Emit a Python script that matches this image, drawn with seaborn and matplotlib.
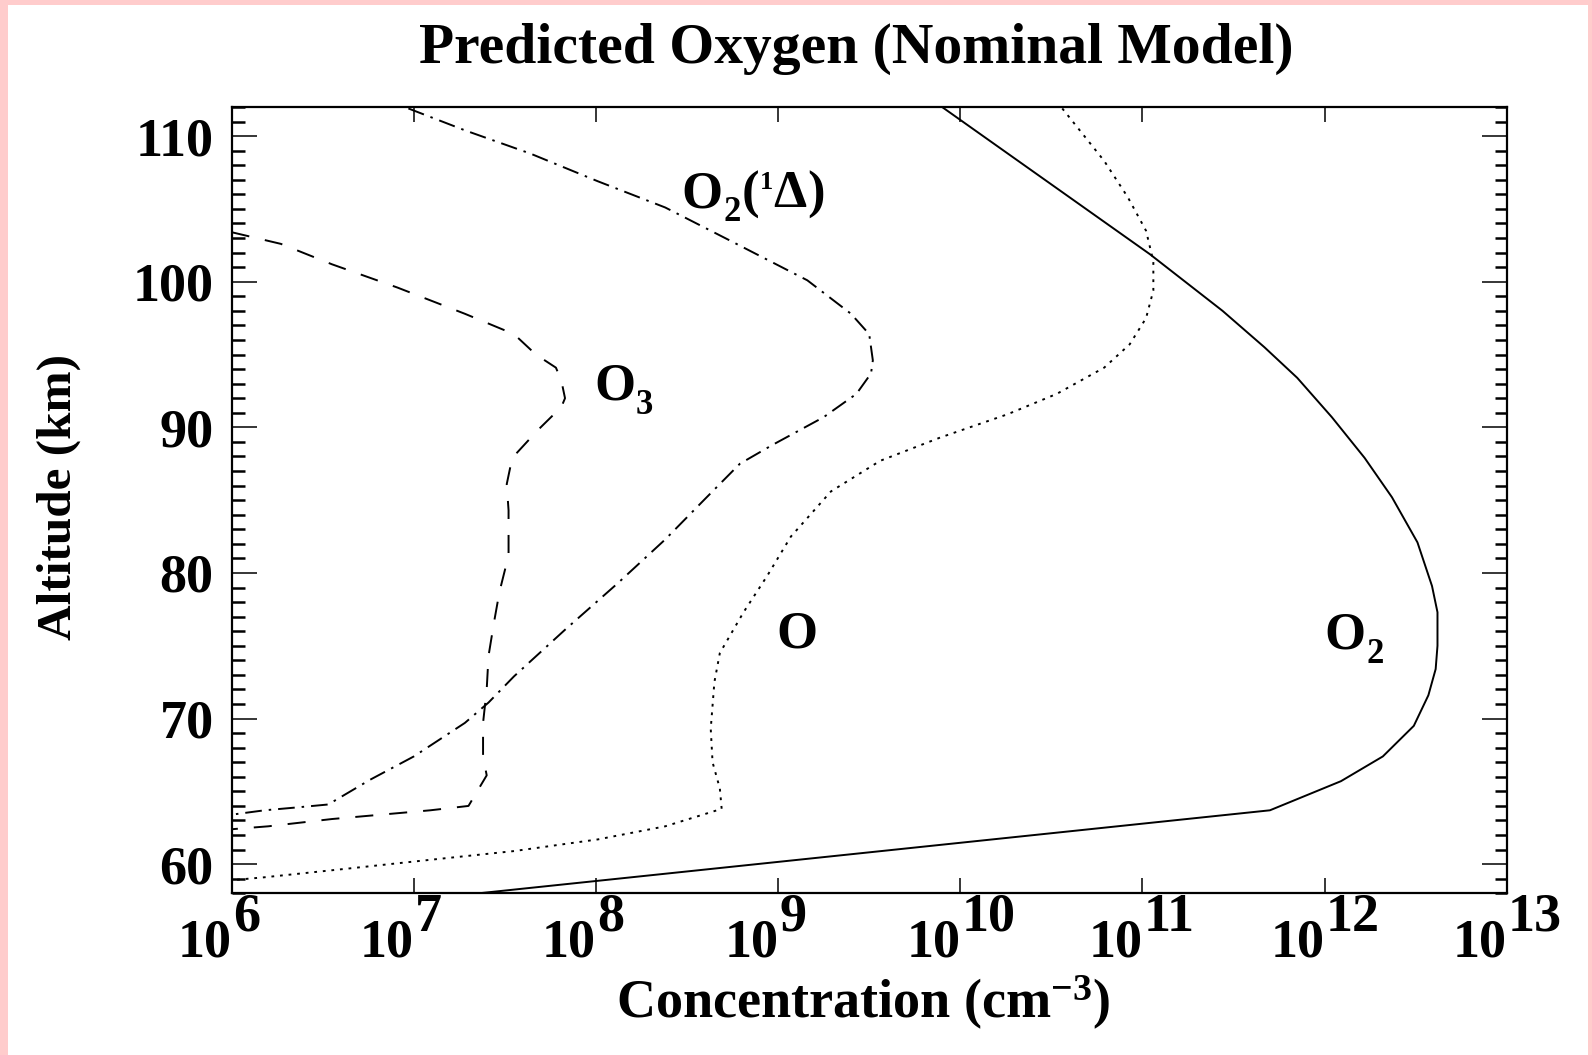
import matplotlib
matplotlib.use("Agg")
import matplotlib.pyplot as plt
from matplotlib.patches import Rectangle
from matplotlib.ticker import FixedLocator, MultipleLocator, NullLocator, NullFormatter
import numpy as np
import pandas as pd
import seaborn as sns

# Altitude (km) and log10 of number density (cm^-3) along each profile
o2_alt = [112.0, 101.9, 98.0, 95.5, 93.4, 90.7, 87.9, 85.2, 82.1, 79.1, 77.3, 75.0,
          73.4, 71.6, 69.5, 67.4, 65.7, 63.7, 57.9]
o2_log = [9.90, 11.04, 11.44, 11.67, 11.85, 12.04, 12.22, 12.37, 12.51, 12.59, 12.62, 12.62,
          12.61, 12.57, 12.49, 12.32, 12.09, 11.70, 7.28]

o_alt = [111.9, 108.3, 105.8, 103.5, 101.4, 99.4, 97.5, 95.7, 94.1, 92.3, 90.9, 89.3,
         87.7, 85.6, 82.5, 79.8, 77.3, 74.5, 72.5, 69.3, 67.0, 65.2, 63.8, 62.6,
         61.7, 60.9, 60.3, 59.7, 59.1, 58.9]
o_log = [10.56, 10.79, 10.92, 11.02, 11.06, 11.06, 11.02, 10.93, 10.79, 10.53, 10.26, 9.89,
         9.56, 9.29, 9.07, 8.94, 8.81, 8.68, 8.65, 8.63, 8.64, 8.68, 8.69, 8.38,
         8.01, 7.55, 7.09, 6.64, 6.18, 6.00]

o3_alt = [103.4, 102.6, 101.2, 99.6, 97.8, 96.4, 95.0, 94.1, 93.2, 92.0, 91.4, 89.8,
          87.9, 86.1, 84.3, 81.2, 78.7, 76.6, 74.3, 72.0, 69.7, 67.4, 66.1, 64.0,
          63.7, 63.4, 63.1, 62.6, 62.4]
o3_log = [6.00, 6.27, 6.55, 6.91, 7.28, 7.55, 7.67, 7.78, 7.81, 7.83, 7.81, 7.68,
          7.54, 7.51, 7.52, 7.52, 7.47, 7.44, 7.41, 7.40, 7.38, 7.38, 7.40, 7.30,
          7.09, 6.82, 6.55, 6.20, 6.00]

o2d_alt = [111.9, 110.4, 108.8, 106.9, 105.1, 102.8, 100.1, 97.8, 96.4, 94.6, 93.7, 92.3,
           90.7, 88.8, 87.5, 85.1, 82.3, 79.3, 76.1, 72.9, 71.1, 69.7, 67.4, 65.8,
           64.1, 63.9, 63.7, 63.4]
o2d_log = [6.97, 7.28, 7.64, 8.01, 8.38, 8.74, 9.16, 9.40, 9.50, 9.52, 9.51, 9.43,
           9.25, 8.97, 8.79, 8.60, 8.38, 8.12, 7.83, 7.55, 7.41, 7.28, 7.00, 6.76,
           6.53, 6.36, 6.18, 6.00]

species = ["O2", "O", "O3", "O2(1D)"]
y_ticks = [60, 70, 80, 90, 100, 110]
x_exponents = [6, 7, 8, 9, 10, 11, 12, 13]

frames = []
for name, alt, lg in [("O2", o2_alt, o2_log), ("O", o_alt, o_log),
                      ("O3", o3_alt, o3_log), ("O2(1D)", o2d_alt, o2d_log)]:
    frames.append(pd.DataFrame({"species": name, "altitude": alt,
                                "density": np.power(10.0, lg)}))
df = pd.concat(frames, ignore_index=True)

sns.set_theme(style="ticks")
plt.rcParams["font.family"] = ["Liberation Serif", "DejaVu Serif"]
plt.rcParams["font.weight"] = "bold"
plt.rcParams["text.color"] = "black"
plt.rcParams["axes.labelcolor"] = "black"
plt.rcParams["xtick.color"] = "black"
plt.rcParams["ytick.color"] = "black"
plt.rcParams["axes.edgecolor"] = "black"
plt.rcParams["mathtext.fontset"] = "custom"
plt.rcParams["mathtext.rm"] = "Liberation Serif:bold"
plt.rcParams["mathtext.it"] = "Liberation Serif:bold"
plt.rcParams["mathtext.bf"] = "Liberation Serif:bold"
plt.rcParams["lines.scale_dashes"] = False

FS_TICK = 39
FS_LAB = 38
W, H = 1592, 1055
fig = plt.figure(figsize=(W / 100, H / 100), dpi=100, facecolor="#FFCCCC")
fig.patches.append(Rectangle((8 / W, 0), 1 - 12 / W, 1 - 5 / H,
                             transform=fig.transFigure, facecolor="white",
                             edgecolor="none", zorder=-10))

ax = fig.add_axes([231.7 / W, 1 - 893.3 / H, 1275 / W, 786.3 / H])
ax.set_facecolor("white")

dash_map = {"O2": "", "O": (2.0, 4.2), "O3": (13, 11.5), "O2(1D)": (12, 5, 1.8, 5)}
sns.lineplot(data=df, x="density", y="altitude", style="species", dashes=dash_map,
             color="black", linewidth=1.4, sort=False, estimator=None,
             legend=False, ax=ax)

ax.set_xscale("log")
ax.set_xlim(1e6, 1e13)
ax.set_ylim(58, 112)
ax.set_xlabel("")
ax.set_ylabel("")

for s in ax.spines.values():
    s.set_visible(True)
    s.set_linewidth(1.6)
    s.set_color("black")

ax.xaxis.set_major_locator(FixedLocator([10.0 ** e for e in x_exponents]))
ax.xaxis.set_minor_locator(NullLocator())
ax.xaxis.set_major_formatter(NullFormatter())
ax.yaxis.set_major_locator(FixedLocator(y_ticks))
ax.yaxis.set_minor_locator(MultipleLocator(1))
ax.set_yticklabels([str(v) for v in y_ticks])

ax.tick_params(axis="x", which="major", direction="in", length=11, width=1.1,
               top=True, bottom=True, color="black")
ax.tick_params(axis="y", which="major", direction="in", length=18, width=1.1,
               left=True, right=True, labelsize=FS_TICK, pad=13, color="black")
ax.tick_params(axis="y", which="minor", direction="in", length=9, width=1.8,
               left=True, right=True, color="black")
for lab in ax.get_yticklabels():
    lab.set_fontweight("bold")

# Decade labels written as base with a full-size raised exponent
xt = ax.get_xaxis_transform()
for e in x_exponents:
    ax.annotate("10", xy=(10.0 ** e, 0), xycoords=xt, xytext=(0, -36.5),
                textcoords="offset points", ha="right", va="center",
                fontsize=FS_TICK, fontweight="bold", annotation_clip=False)
    ax.annotate(str(e), xy=(10.0 ** e, 0), xycoords=xt, xytext=(1, -17.5),
                textcoords="offset points", ha="left", va="center",
                fontsize=FS_TICK, fontweight="bold", annotation_clip=False)


def species_label(x, y, pieces):
    """Write a chemical label piece by piece on a common baseline at (x, y)."""
    first_txt, first_size, _ = pieces[0]
    prev = ax.text(x, y, first_txt, fontsize=first_size, fontweight="bold",
                   ha="left", va="baseline")
    for txt, size, dy in pieces[1:]:
        prev = ax.annotate(txt, xy=(1, y), xycoords=(prev, "data"),
                           xytext=(0.5, dy), textcoords="offset points",
                           ha="left", va="baseline", fontsize=size,
                           fontweight="bold")


SUB = 25
SUP = 19
species_label(10 ** 8.47, 105.1, [("O", FS_LAB, 0), ("2", SUB, -10), ("(", FS_LAB, 0),
                                   ("1", SUP, 13.5), ("Δ", FS_LAB, 0), (")", FS_LAB, 0)])
species_label(10 ** 7.99, 91.9, [("O", FS_LAB, 0), ("3", SUB, -10)])
species_label(10 ** 8.99, 74.9, [("O", FS_LAB, 0)])
species_label(10 ** 12.0, 74.8, [("O", FS_LAB, 0), ("2", SUB, -10)])

fig.text(856 / W, 1 - 49 / H, "Predicted Oxygen (Nominal Model)", fontsize=41.5,
         fontweight="bold", ha="center", va="center")
fig.text(863 / W, 1 - 1003 / H, r"Concentration (cm$^{\mathregular{-3}}$)",
         fontsize=39, fontweight="bold", ha="center", va="center")
fig.text(59 / W, 1 - 497.5 / H, "Altitude (km)", fontsize=35.5, fontweight="bold",
         rotation=90, ha="center", va="center")

fig.savefig("out.png", dpi=100, facecolor=fig.get_facecolor())
